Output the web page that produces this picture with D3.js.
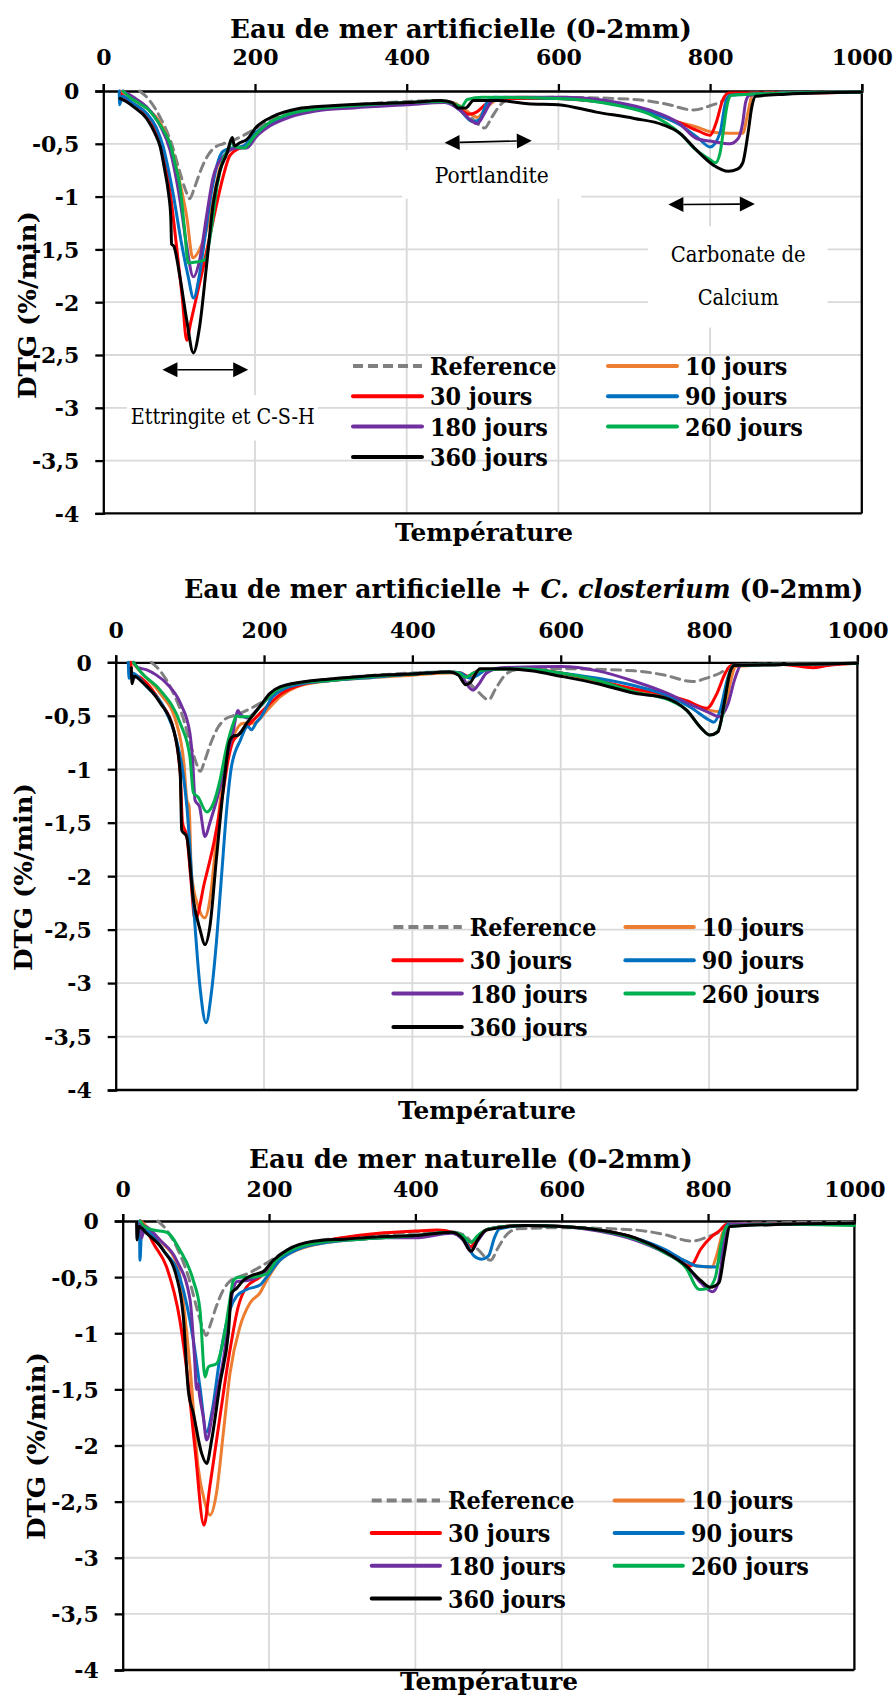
<!DOCTYPE html>
<html><head><meta charset="utf-8">
<script src="https://cdn.jsdelivr.net/npm/d3@7"></script>
<style>html,body{margin:0;padding:0;background:#fff;}svg{display:block;}</style>
</head><body>
<svg id="chart" width="894" height="1696"></svg>
<script>
// ---------------- DATA ----------------
const seriesNames = ["Reference","10 jours","30 jours","90 jours","180 jours","260 jours","360 jours"];
const seriesColors = ["#808080","#ED7D31","#FF0000","#0070C0","#7030A0","#00B050","#000000"];
const xTickValues = [0,200,400,600,800,1000];
const yTickValues = [0,-0.5,-1,-1.5,-2,-2.5,-3,-3.5,-4];
const yTickLabels = ["0","-0,5","-1","-1,5","-2","-2,5","-3","-3,5","-4"];
const chartTitles = ["Eau de mer artificielle (0-2mm)","Eau de mer artificielle +|C. closterium|(0-2mm)","Eau de mer naturelle (0-2mm)"];

// Reference (same in the three panels)
const refCurve = [[48,0],[60,-0.08],[75,-0.25],[90,-0.5],[101,-0.77],[108,-0.93],[114,-1.02],[120,-0.92],[128,-0.76],[137,-0.62],[146,-0.54],[158,-0.5],[170,-0.47],[185,-0.42],[200,-0.36],[220,-0.28],[250,-0.2],[300,-0.15],[350,-0.12],[400,-0.1],[440,-0.09],[465,-0.12],[485,-0.25],[503,-0.35],[512,-0.25],[525,-0.12],[540,-0.07],[600,-0.06],[700,-0.08],[740,-0.12],[778,-0.18],[800,-0.14],[815,-0.1],[830,-0.04],[850,-0.02],[1000,-0.01]];

// Panel 1 : Eau de mer artificielle
const c1_10 = [[22,0],[30,-0.03],[45,-0.1],[60,-0.18],[75,-0.3],[88,-0.5],[101,-0.87],[110,-1.19],[118,-1.58],[127,-1.5],[136,-1.32],[145,-1.03],[154,-0.72],[162,-0.6],[170,-0.55],[180,-0.54],[190,-0.52],[200,-0.42],[215,-0.33],[240,-0.24],[280,-0.18],[330,-0.15],[400,-0.12],[450,-0.1],[470,-0.14],[485,-0.22],[493,-0.25],[505,-0.16],[520,-0.08],[550,-0.06],[600,-0.07],[680,-0.13],[720,-0.2],[750,-0.28],[782,-0.34],[800,-0.385],[826,-0.4],[843,-0.4],[850,-0.2],[856,-0.03],[900,-0.02],[1000,-0.01]];
const c1_30 = [[22,-0.02],[35,-0.1],[50,-0.17],[65,-0.3],[78,-0.55],[88,-0.95],[97,-1.5],[104,-1.95],[110,-2.36],[115,-2.2],[121,-2.01],[132,-1.66],[145,-1.22],[158,-0.81],[167,-0.61],[180,-0.54],[190,-0.5],[200,-0.42],[215,-0.33],[240,-0.24],[280,-0.18],[330,-0.15],[400,-0.12],[450,-0.1],[470,-0.17],[482,-0.22],[492,-0.2],[505,-0.12],[520,-0.07],[600,-0.07],[680,-0.13],[720,-0.2],[760,-0.3],[785,-0.38],[800,-0.42],[808,-0.3],[817,-0.08],[825,-0.02],[900,-0.02],[1000,-0.01]];
const c1_90 = [[21,0],[21.5,-0.13],[25,-0.05],[40,-0.12],[57,-0.21],[70,-0.35],[79,-0.53],[86,-0.75],[92,-0.97],[103,-1.44],[112,-1.76],[119,-1.96],[127,-1.73],[134,-1.38],[143,-0.94],[152,-0.65],[158,-0.57],[170,-0.54],[185,-0.52],[200,-0.4],[215,-0.33],[240,-0.24],[280,-0.18],[330,-0.15],[400,-0.12],[450,-0.1],[470,-0.18],[487,-0.29],[496,-0.27],[505,-0.12],[515,-0.06],[600,-0.07],[680,-0.13],[720,-0.2],[760,-0.32],[785,-0.45],[800,-0.53],[813,-0.4],[820,-0.12],[826,-0.04],[900,-0.02],[1000,-0.01]];
const c1_180 = [[26,0],[40,-0.06],[57,-0.15],[75,-0.33],[88,-0.56],[101,-1.03],[110,-1.47],[118.7,-1.76],[127,-1.6],[136,-1.19],[145,-0.81],[158,-0.62],[176,-0.54],[189,-0.54],[202,-0.43],[220,-0.33],[245,-0.25],[280,-0.19],[330,-0.16],[400,-0.13],[450,-0.11],[470,-0.18],[485,-0.28],[493,-0.31],[502,-0.22],[512,-0.1],[530,-0.06],[600,-0.06],[680,-0.11],[720,-0.18],[760,-0.31],[782,-0.45],[805,-0.48],[826,-0.5],[837,-0.45],[843,-0.3],[847,-0.1],[852,-0.04],[900,-0.02],[1000,-0.01]];
const c1_260 = [[26,0],[35,-0.06],[48,-0.12],[60,-0.18],[70,-0.27],[80,-0.38],[88,-0.5],[95,-0.7],[101,-0.9],[107,-1.3],[112,-1.63],[122,-1.62],[134,-1.6],[143,-1.28],[150,-0.9],[158,-0.65],[166,-0.53],[169,-0.46],[172,-0.52],[185,-0.54],[200,-0.42],[215,-0.32],[240,-0.23],[280,-0.17],[330,-0.14],[400,-0.11],[450,-0.1],[465,-0.13],[472,-0.15],[480,-0.08],[500,-0.06],[600,-0.07],[680,-0.14],[720,-0.22],[760,-0.4],[782,-0.56],[800,-0.65],[807,-0.68],[813,-0.59],[818,-0.35],[822,-0.15],[828,-0.04],[900,-0.02],[1000,-0.01]];
const c1_360 = [[22,-0.07],[30,-0.1],[40,-0.15],[57,-0.26],[68,-0.4],[75,-0.53],[81,-0.75],[86,-0.97],[89,-1.2],[90,-1.45],[93,-1.47],[101,-1.76],[110,-2.17],[118.7,-2.48],[127,-2.23],[136,-1.66],[145,-1.06],[154,-0.75],[163,-0.59],[168,-0.47],[170,-0.44],[173,-0.52],[180,-0.49],[189,-0.46],[202,-0.34],[224,-0.24],[255,-0.17],[300,-0.14],[350,-0.12],[400,-0.11],[445,-0.09],[460,-0.11],[468,-0.16],[478,-0.16],[488,-0.09],[520,-0.09],[560,-0.12],[600,-0.13],[650,-0.2],[700,-0.26],[738,-0.32],[760,-0.4],[782,-0.56],[804,-0.7],[824,-0.76],[836,-0.74],[843,-0.68],[850,-0.4],[855,-0.15],[860,-0.05],[900,-0.03],[1000,-0.01]];

// Panel 2 : Eau de mer artificielle + C. closterium
const c2_10 = [[22,0],[35,-0.1],[60,-0.29],[82,-0.57],[92,-0.95],[96,-1.29],[99,-1.35],[102,-1.97],[111,-2.28],[120,-2.39],[127,-2.22],[134,-1.78],[141,-1.29],[150,-0.91],[159,-0.69],[172,-0.57],[186,-0.57],[204,-0.45],[222,-0.32],[244,-0.23],[280,-0.18],[330,-0.15],[400,-0.12],[450,-0.1],[465,-0.1],[475,-0.14],[485,-0.1],[500,-0.07],[550,-0.06],[600,-0.1],[650,-0.18],[700,-0.27],[740,-0.32],[770,-0.38],[795,-0.44],[812,-0.46],[822,-0.4],[830,-0.15],[836,-0.04],[900,-0.02],[1000,-0.01]];
const c2_30 = [[20,0],[22,-0.1],[35,-0.15],[60,-0.37],[78,-0.63],[87,-1.04],[90,-1.5],[96,-1.63],[101,-2.0],[107,-2.41],[120,-2.05],[132,-1.7],[145,-1.2],[152,-0.9],[158,-0.74],[165,-0.68],[180,-0.58],[200,-0.44],[222,-0.3],[250,-0.21],[300,-0.16],[350,-0.13],[400,-0.11],[450,-0.09],[465,-0.1],[475,-0.13],[485,-0.09],[500,-0.07],[550,-0.06],[600,-0.1],[650,-0.17],[700,-0.25],[740,-0.3],[770,-0.36],[797,-0.43],[810,-0.3],[822,-0.1],[830,-0.03],[900,-0.02],[940,-0.05],[960,-0.03],[1000,-0.01]];
const c2_90 = [[17,0],[18,-0.15],[22,-0.1],[42,-0.23],[64,-0.41],[82,-0.73],[90,-1.0],[96,-1.35],[105,-2.28],[114,-3.06],[121.8,-3.37],[129,-3.09],[136,-2.6],[143,-1.97],[150,-1.35],[156,-0.98],[168,-0.73],[178,-0.6],[183,-0.63],[190,-0.56],[195,-0.52],[212,-0.32],[244,-0.21],[290,-0.17],[330,-0.15],[400,-0.11],[450,-0.09],[465,-0.1],[478,-0.15],[488,-0.12],[500,-0.07],[550,-0.06],[600,-0.1],[650,-0.15],[700,-0.22],[740,-0.3],[775,-0.42],[800,-0.54],[806,-0.56],[815,-0.45],[825,-0.15],[833,-0.03],[900,-0.02],[1000,-0.01]];
const c2_180 = [[24,0],[30,-0.05],[42,-0.07],[55,-0.12],[69,-0.2],[87,-0.38],[100,-0.66],[104,-0.95],[107,-1.29],[113,-1.35],[120.4,-1.63],[127,-1.5],[141,-1.16],[150,-0.88],[158,-0.66],[165,-0.45],[168,-0.49],[177,-0.52],[195,-0.41],[210,-0.3],[240,-0.2],[290,-0.17],[350,-0.13],[400,-0.11],[450,-0.09],[465,-0.12],[475,-0.22],[482,-0.26],[490,-0.2],[500,-0.1],[520,-0.05],[600,-0.04],[650,-0.08],[700,-0.18],[740,-0.28],[780,-0.41],[800,-0.47],[814,-0.51],[825,-0.4],[835,-0.15],[843,-0.03],[900,-0.02],[1000,-0.01]];
const c2_260 = [[24,0],[35,-0.1],[60,-0.26],[87,-0.57],[100,-0.88],[104.7,-1.22],[111,-1.26],[122.7,-1.4],[131.7,-1.32],[140.7,-1.1],[149.6,-0.79],[158.6,-0.57],[163,-0.5],[167,-0.51],[181,-0.51],[195,-0.41],[210,-0.3],[240,-0.2],[290,-0.17],[350,-0.13],[400,-0.11],[450,-0.09],[462,-0.1],[472,-0.14],[482,-0.1],[500,-0.07],[550,-0.06],[600,-0.1],[650,-0.17],[700,-0.28],[745,-0.35],[770,-0.45],[790,-0.62],[801,-0.68],[810,-0.66],[818,-0.5],[826,-0.15],[833,-0.03],[900,-0.02],[1000,-0.01]];
const c2_360 = [[21,-0.05],[22,-0.2],[25,-0.13],[35,-0.18],[60,-0.38],[78,-0.63],[87,-1.04],[89,-1.57],[95.7,-1.63],[104.7,-2.22],[113.7,-2.5],[120.4,-2.64],[127,-2.47],[136,-1.82],[145,-1.19],[154,-0.73],[158.6,-0.69],[165,-0.68],[176.6,-0.57],[194.6,-0.41],[208,-0.29],[221.5,-0.23],[266.5,-0.17],[300,-0.15],[356,-0.12],[400,-0.11],[450,-0.09],[462,-0.12],[472,-0.21],[478,-0.19],[491,-0.06],[520,-0.06],[560,-0.08],[600,-0.13],[650,-0.2],[700,-0.29],[740,-0.33],[770,-0.45],[790,-0.62],[801,-0.68],[812,-0.65],[820,-0.4],[828,-0.1],[834,-0.03],[900,-0.02],[1000,-0.01]];

// Panel 3 : Eau de mer naturelle
const c3_10 = [[25,0],[40,-0.1],[55,-0.2],[75,-0.4],[92,-1.3],[103,-2.19],[112,-2.5],[119.3,-2.62],[128,-2.43],[137.5,-1.89],[146.6,-1.36],[160.3,-0.94],[174,-0.73],[187.6,-0.64],[196.7,-0.53],[215,-0.35],[238,-0.26],[280,-0.19],[330,-0.16],[400,-0.13],[450,-0.1],[465,-0.14],[476,-0.24],[485,-0.16],[500,-0.07],[550,-0.04],[600,-0.05],[650,-0.08],[700,-0.15],[740,-0.26],[770,-0.36],[785,-0.4],[805,-0.41],[812,-0.3],[820,-0.1],[828,-0.03],[900,-0.03],[1000,-0.02]];
const c3_30 = [[24,0],[30,-0.05],[42,-0.2],[60,-0.41],[78,-0.88],[87,-1.3],[99,-2.04],[111,-2.71],[119,-2.37],[133,-1.74],[146.6,-1.15],[158,-0.76],[169,-0.59],[187.6,-0.5],[206,-0.38],[225,-0.27],[260,-0.2],[300,-0.15],[350,-0.11],[400,-0.09],[430,-0.08],[450,-0.1],[465,-0.15],[476,-0.23],[485,-0.15],[500,-0.07],[550,-0.04],[600,-0.05],[650,-0.08],[700,-0.15],[740,-0.26],[776,-0.4],[790,-0.25],[803,-0.15],[815,-0.09],[826,-0.03],[900,-0.03],[1000,-0.02]];
const c3_90 = [[23,0],[23.6,-0.35],[26,-0.06],[40,-0.12],[55.5,-0.26],[78,-0.5],[96.5,-1.06],[105.6,-1.48],[114.7,-1.88],[122,-1.7],[133,-1.21],[146.6,-0.79],[155.7,-0.67],[169.4,-0.61],[187.6,-0.57],[196.7,-0.5],[215,-0.35],[240,-0.25],[280,-0.19],[330,-0.16],[400,-0.13],[450,-0.1],[465,-0.15],[480,-0.31],[491,-0.34],[500,-0.31],[508,-0.15],[515,-0.07],[550,-0.04],[600,-0.05],[650,-0.08],[700,-0.15],[740,-0.25],[770,-0.36],[785,-0.4],[810,-0.41],[817,-0.3],[822,-0.1],[828,-0.03],[900,-0.03],[1000,-0.02]];
const c3_180 = [[24,0],[26,-0.15],[30,-0.05],[50.9,-0.17],[73.7,-0.35],[92,-0.7],[98,-1.2],[101,-1.5],[103,-1.45],[105,-1.55],[110,-1.74],[114.7,-1.95],[123.8,-1.68],[137.5,-1.24],[151,-0.61],[156,-0.54],[170,-0.53],[190,-0.48],[205,-0.36],[225,-0.27],[260,-0.2],[300,-0.17],[350,-0.15],[400,-0.15],[450,-0.11],[465,-0.17],[476,-0.27],[485,-0.18],[500,-0.07],[550,-0.04],[600,-0.05],[650,-0.09],[700,-0.17],[740,-0.28],[770,-0.4],[790,-0.55],[806,-0.63],[814,-0.55],[820,-0.3],[826,-0.08],[832,-0.03],[900,-0.03],[1000,-0.02]];
const c3_260 = [[24,0],[30,-0.05],[41.8,-0.08],[60,-0.1],[78.3,-0.26],[96.5,-0.53],[105.6,-0.79],[112.5,-1.39],[117,-1.3],[128.4,-1.27],[137.5,-1.06],[146.6,-0.7],[151.2,-0.53],[158,-0.5],[175,-0.5],[196.7,-0.47],[210,-0.35],[230,-0.26],[270,-0.19],[330,-0.16],[400,-0.13],[450,-0.1],[465,-0.13],[476,-0.19],[485,-0.13],[500,-0.07],[550,-0.04],[600,-0.05],[650,-0.08],[700,-0.16],[740,-0.28],[770,-0.42],[788,-0.61],[800,-0.6],[810,-0.5],[818,-0.2],[826,-0.05],[900,-0.03],[1000,-0.04]];
const c3_360 = [[19,-0.02],[19.5,-0.17],[22,-0.05],[32.7,-0.11],[55.5,-0.26],[73.7,-0.5],[82.8,-0.85],[89.7,-1.51],[96.5,-1.71],[107.9,-2.07],[114.7,-2.16],[121.6,-1.95],[133,-1.45],[144.4,-1.0],[148.9,-0.64],[155.7,-0.6],[164.8,-0.53],[178.5,-0.48],[192,-0.45],[205.9,-0.35],[224,-0.26],[260.5,-0.18],[306,-0.16],[350,-0.14],[400,-0.13],[450,-0.1],[465,-0.16],[476,-0.27],[485,-0.17],[497,-0.08],[550,-0.04],[600,-0.05],[650,-0.08],[700,-0.15],[740,-0.27],[770,-0.4],[790,-0.53],[803,-0.59],[815,-0.55],[822,-0.3],[830,-0.05],[900,-0.03],[1000,-0.02]];

const panelSeries = [
  [refCurve, c1_10, c1_30, c1_90, c1_180, c1_260, c1_360],
  [refCurve, c2_10, c2_30, c2_90, c2_180, c2_260, c2_360],
  [refCurve, c3_10, c3_30, c3_90, c3_180, c3_260, c3_360]
];

// Annotations of panel 1 (data units)
const annotArrows = [ {t0:78, v0:-2.64, t1:191, v1:-2.64}, {t0:450, v0:-0.49, t1:565, v1:-0.47}, {t0:745, v0:-1.075, t1:859, v1:-1.07} ];
const annotBoxes = [ {t0:31, t1:283, v0:-2.88, v1:-3.31}, {t0:394, t1:630, v0:-0.56, v1:-1.02}, {t0:718, t1:955, v0:-1.28, v1:-2.24} ];
const annotTexts = [ {text:"Ettringite et C-S-H", t:157.5, v:-3.15, w:184}, {text:"Portlandite", t:512, v:-0.868, w:114}, {text:"Carbonate de", t:837, v:-1.622, w:135}, {text:"Calcium", t:837, v:-2.027, w:81} ];

// ---------------- LAYOUT ----------------
const layouts = [
  {x0:103.3, x1:861.8, y0:91, y1:513.4, titleX:461, titleY:38, titleW:462, tickY:65, ylabX:27, ylabY:305, xlabX:484, xlabY:541,
   leg:{c1:353, c2:608, y:366, dy:30.3, w:69}},
  {x0:115.7, x1:857.4, y0:662.3, y1:1090, titleX:523.6, titleY:598, titleW:680, tickY:638, ylabX:23, ylabY:877, xlabX:487, xlabY:1119,
   leg:{c1:393.4, c2:625.4, y:927, dy:33.3, w:68.4}},
  {x0:122.7, x1:854.4, y0:1221, y1:1670, titleX:471, titleY:1168, titleW:444, tickY:1197, ylabX:36, ylabY:1446, xlabX:489, xlabY:1690,
   leg:{c1:371.7, c2:614.6, y:1500.4, dy:32.7, w:68.3}}
];

const svg = d3.select("#chart");
const FONT = "'DejaVu Serif', serif";
const GRID = "#d9d9d9";

function squeeze(sel, factor){
  sel.each(function(){ const l=this.getComputedTextLength(); d3.select(this).attr("textLength", l*factor).attr("lengthAdjust","spacingAndGlyphs"); });
}

layouts.forEach((L, pi) => {
  const g = svg.append("g");
  const x = d3.scaleLinear().domain([0,1000]).range([L.x0, L.x1]);
  const y = d3.scaleLinear().domain([0,-4]).range([L.y0, L.y1]);

  // gridlines
  g.append("g").selectAll("line").data(xTickValues.filter(d=>d>0 && d<1000)).join("line")
    .attr("x1", d=>x(d)).attr("x2", d=>x(d)).attr("y1", L.y0).attr("y2", L.y1)
    .attr("stroke", GRID).attr("stroke-width", 1.8);
  g.append("g").selectAll("line").data(yTickValues.filter(d=>d<0 && d>-4)).join("line")
    .attr("x1", L.x0).attr("x2", L.x1).attr("y1", d=>y(d)).attr("y2", d=>y(d))
    .attr("stroke", GRID).attr("stroke-width", 1.8);

  // annotation boxes (panel 1)
  if (pi === 0) {
    g.append("g").selectAll("rect").data(annotBoxes).join("rect")
      .attr("x", d=>x(d.t0)).attr("width", d=>x(d.t1)-x(d.t0))
      .attr("y", d=>y(d.v0)).attr("height", d=>y(d.v1)-y(d.v0))
      .attr("fill", "#fff");
  }

  // axes
  const xAxis = d3.axisTop(x).tickValues(xTickValues).tickSize(7).tickFormat(d3.format("d"));
  const xa = g.append("g").attr("transform", `translate(0,${L.y0})`).call(xAxis);
  xa.select(".domain").attr("stroke","#000").attr("stroke-width",2.3);
  xa.selectAll(".tick line").attr("stroke","#000").attr("stroke-width",2.3);
  xa.selectAll(".tick text").attr("font-family",FONT).attr("font-weight","bold").attr("font-size",22)
    .attr("fill","#000").attr("dy",null).attr("y", L.tickY - L.y0);

  const yAxis = d3.axisLeft(y).tickValues(yTickValues).tickSize(8).tickFormat((d,i)=>yTickLabels[i]);
  const ya = g.append("g").attr("transform", `translate(${L.x0},0)`).call(yAxis);
  ya.select(".domain").attr("stroke","#000").attr("stroke-width",2.3);
  ya.selectAll(".tick line").attr("stroke","#000").attr("stroke-width",2.3);
  ya.selectAll(".tick text").attr("font-family",FONT).attr("font-weight","bold").attr("font-size",22)
    .attr("fill","#000").attr("x",-24).attr("dy","0.36em");

  // frame: right & bottom
  g.append("line").attr("x1",L.x1).attr("x2",L.x1).attr("y1",L.y0).attr("y2",L.y1).attr("stroke","#000").attr("stroke-width",2.3);
  g.append("line").attr("x1",L.x0).attr("x2",L.x1).attr("y1",L.y1).attr("y2",L.y1).attr("stroke","#000").attr("stroke-width",2.3);

  // curves
  const line = d3.line().x(d=>x(d[0])).y(d=>y(d[1])).curve(d3.curveMonotoneX);
  const curves = g.append("g");
  panelSeries[pi].forEach((data, si) => {
    curves.append("path").datum(data).attr("d", line)
      .attr("fill","none").attr("stroke", seriesColors[si])
      .attr("stroke-width", 3)
      .attr("stroke-linejoin","round").attr("stroke-linecap","round")
      .attr("stroke-dasharray", si===0 ? "9,6" : null);
  });

  // annotations (panel 1)
  if (pi === 0) {
    const ag = g.append("g");
    annotArrows.forEach(a => {
      const xa0=x(a.t0), ya0=y(a.v0), xa1=x(a.t1), ya1=y(a.v1);
      const ang = Math.atan2(ya1-ya0, xa1-xa0), hl=15, hw=7.5;
      ag.append("line").attr("x1",xa0+hl*Math.cos(ang)).attr("y1",ya0+hl*Math.sin(ang))
        .attr("x2",xa1-hl*Math.cos(ang)).attr("y2",ya1-hl*Math.sin(ang)).attr("stroke","#000").attr("stroke-width",1.6);
      const head = (px,py,dir) => {
        const bx = px - dir*hl*Math.cos(ang), by = py - dir*hl*Math.sin(ang);
        const nx = -Math.sin(ang)*hw, ny = Math.cos(ang)*hw;
        return [[px,py],[bx+nx,by+ny],[bx-nx,by-ny]];
      };
      ag.append("polygon").attr("points", head(xa1,ya1,1).join(" ")).attr("fill","#000");
      ag.append("polygon").attr("points", head(xa0,ya0,-1).join(" ")).attr("fill","#000");
    });
    ag.selectAll("text").data(annotTexts).join("text")
      .attr("x", d=>x(d.t)).attr("y", d=>y(d.v)).attr("text-anchor","middle")
      .attr("font-family",FONT).attr("font-size",22).attr("fill","#000")
      .attr("textLength", d=>d.w).attr("lengthAdjust","spacingAndGlyphs")
      .text(d=>d.text);
  }

  // title : runs separated by a word gap (the middle run is in italics); font size fitted to the width
  const parts = chartTitles[pi].split("|");
  const baseSize = 28;
  const runs = parts.map((p,i)=> g.append("text").attr("y", L.titleY)
    .attr("font-family",FONT).attr("font-weight","bold").attr("font-size",baseSize).attr("fill","#000")
    .attr("font-style", i%2===1 ? "italic" : "normal").text(p));
  const gapEm = 0.35;
  const natural = runs.map(r => r.node().getComputedTextLength());
  const total = d3.sum(natural) + gapEm*baseSize*(runs.length-1);
  const fs = baseSize * L.titleW / total;
  runs.forEach(r => r.attr("font-size", fs));
  const widths = runs.map(r => r.node().getComputedTextLength());
  const tot2 = d3.sum(widths) + gapEm*fs*(runs.length-1);
  let cx = L.titleX - tot2/2;
  runs.forEach((r,i)=>{ r.attr("x", cx); cx += widths[i] + gapEm*fs; });

  // axis titles
  g.append("text").attr("transform",`translate(${L.ylabX},${L.ylabY}) rotate(-90)`).attr("text-anchor","middle")
    .attr("dy","0.35em").attr("font-family",FONT).attr("font-weight","bold").attr("font-size",25).attr("fill","#000")
    .attr("textLength",188).attr("lengthAdjust","spacingAndGlyphs").text("DTG (%/min)");
  g.append("text").attr("x",L.xlabX).attr("y",L.xlabY).attr("text-anchor","middle")
    .attr("font-family",FONT).attr("font-weight","bold").attr("font-size",25).attr("fill","#000")
    .attr("textLength",178).attr("lengthAdjust","spacingAndGlyphs").text("Température");

  // legend : Reference | 10 ; 30 | 90 ; 180 | 260 ; 360
  const lg = g.append("g");
  seriesNames.forEach((name, si) => {
    const row = Math.floor(si/2);
    const col = si % 2;
    const lx = col===0 ? L.leg.c1 : L.leg.c2;
    const ly = L.leg.y + row*L.leg.dy;
    lg.append("line").attr("x1",lx).attr("x2",lx+L.leg.w).attr("y1",ly).attr("y2",ly)
      .attr("stroke",seriesColors[si]).attr("stroke-width",4)
      .attr("stroke-linecap", si===0 ? "butt" : "round")
      .attr("stroke-dasharray", si===0 ? "10,5" : null);
    const t = lg.append("text").attr("x",lx+L.leg.w+8).attr("y",ly+9)
      .attr("font-family",FONT).attr("font-weight","bold").attr("font-size",24).attr("fill","#000").text(name);
    squeeze(t, 0.93);
  });
});
</script>
</body></html>
